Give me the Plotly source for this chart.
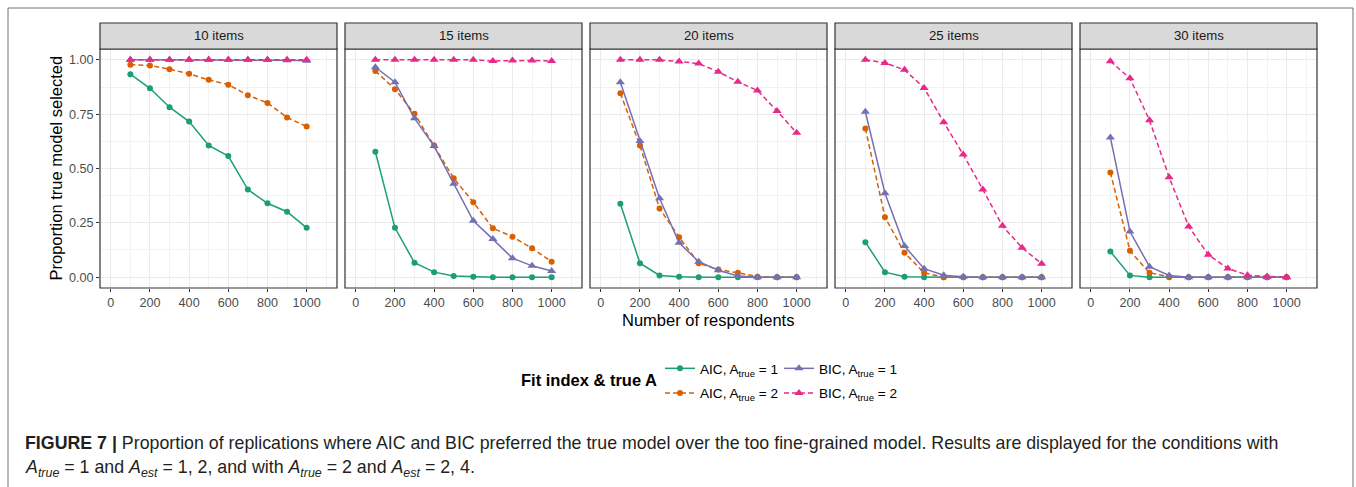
import plotly.graph_objects as go

# ---------------- data ----------------
n_resp = [100, 200, 300, 400, 500, 600, 700, 800, 900, 1000]
panels = ["10 items", "15 items", "20 items", "25 items", "30 items"]
series_names = ["AIC, A<sub>true</sub> = 1", "AIC, A<sub>true</sub> = 2",
                "BIC, A<sub>true</sub> = 1", "BIC, A<sub>true</sub> = 2"]

aic_a1 = [
    [0.934, 0.869, 0.782, 0.716, 0.606, 0.557, 0.403, 0.340, 0.301, 0.227],
    [0.577, 0.227, 0.066, 0.023, 0.005, 0.002, 0.0, 0.0, 0.0, 0.0],
    [0.338, 0.064, 0.008, 0.002, 0.0, 0.0, 0.0, 0.0, 0.0, 0.0],
    [0.161, 0.023, 0.002, 0.0, 0.0, 0.0, 0.0, 0.0, 0.0, 0.0],
    [0.118, 0.008, 0.0, 0.0, 0.0, 0.0, 0.0, 0.0, 0.0, 0.0],
]
aic_a2 = [
    [0.978, 0.974, 0.957, 0.936, 0.908, 0.886, 0.837, 0.802, 0.735, 0.693],
    [0.949, 0.865, 0.752, 0.606, 0.455, 0.345, 0.225, 0.186, 0.133, 0.071],
    [0.846, 0.606, 0.316, 0.184, 0.064, 0.035, 0.020, 0.002, 0.0, 0.0],
    [0.684, 0.276, 0.112, 0.020, 0.0, 0.0, 0.0, 0.0, 0.0, 0.0],
    [0.482, 0.121, 0.020, 0.002, 0.0, 0.0, 0.0, 0.0, 0.0, 0.0],
]
bic_a1 = [
    [1.0, 1.0, 1.0, 1.0, 1.0, 1.0, 1.0, 1.0, 0.998, 0.996],
    [0.966, 0.897, 0.731, 0.603, 0.430, 0.259, 0.175, 0.087, 0.052, 0.028],
    [0.897, 0.627, 0.363, 0.158, 0.071, 0.032, 0.005, 0.0, 0.0, 0.0],
    [0.761, 0.386, 0.143, 0.039, 0.009, 0.002, 0.0, 0.0, 0.0, 0.0],
    [0.643, 0.210, 0.048, 0.008, 0.0, 0.0, 0.0, 0.0, 0.0, 0.0],
]
bic_a2 = [
    [1.0, 1.0, 1.0, 1.0, 1.0, 1.0, 1.0, 1.0, 1.0, 1.0],
    [1.0, 1.0, 1.0, 1.0, 1.0, 1.0, 0.995, 0.997, 0.997, 0.995],
    [1.0, 1.0, 1.0, 0.992, 0.983, 0.945, 0.899, 0.859, 0.765, 0.664],
    [1.0, 0.986, 0.954, 0.871, 0.713, 0.564, 0.403, 0.236, 0.135, 0.062],
    [0.994, 0.915, 0.722, 0.460, 0.233, 0.103, 0.040, 0.009, 0.003, 0.0],
]
x_ticks = [0, 200, 400, 600, 800, 1000]
y_ticks = [0, 0.25, 0.5, 0.75, 1.0]
y_ticktext = ["0.00", "0.25", "0.50", "0.75", "1.00"]

# ---------------- styles ----------------
colors = ["#1B9E77", "#D95F02", "#7570B3", "#E7298A"]
symbols = ["circle", "circle", "triangle-up", "triangle-up"]
dashes = ["solid", "5px,3px", "solid", "5px,3px"]
msize = [6, 6, 8, 8]
legends = ["legend", "legend", "legend2", "legend2"]
all_series = [aic_a1, aic_a2, bic_a1, bic_a2]

W, H = 1356, 487
L, R, T, B = 100, 39, 49, 199
PW, PH = W - L - R, H - T - B
def px_x(p):
    return (p - L) / PW
def px_y(p):
    return (H - B - p) / PH

FONT = "Liberation Sans, Arial, Helvetica, sans-serif"

fig = go.Figure()
shapes = []
annotations = []
for i, name in enumerate(panels):
    ax = "" if i == 0 else str(i + 1)
    for s in range(4):
        fig.add_trace(go.Scatter(
            x=n_resp, y=all_series[s][i], mode="lines+markers",
            name=series_names[s], legendgroup=str(s), showlegend=(i == 0),
            legend=legends[s],
            line=dict(color=colors[s], width=1.5, dash=dashes[s]),
            marker=dict(color=colors[s], size=msize[s], symbol=symbols[s]),
            xaxis="x" + ax, yaxis="y" + ax,
        ))
    x0 = L + i * 245
    x1 = x0 + 237
    dom = [px_x(x0), px_x(x1)]
    fig.update_layout(**{
        "xaxis" + ax: dict(
            domain=dom, range=[-55, 1155], anchor="y" + ax,
            tickvals=x_ticks, ticks="outside", ticklen=3, tickwidth=1,
            tickcolor="#333333", showgrid=True, gridcolor="#EBEBEB", gridwidth=1.4,
            zeroline=False, showline=False,
            tickfont=dict(size=12.6, color="#4D4D4D", family=FONT),
            minor=dict(tickvals=[100, 300, 500, 700, 900, 1100], showgrid=True,
                       gridcolor="#F2F2F2", gridwidth=0.8, ticks=""),
        ),
        "yaxis" + ax: dict(
            domain=[0, 1], range=[-0.05, 1.05], anchor="x" + ax,
            tickvals=y_ticks, ticktext=y_ticktext,
            showticklabels=(i == 0), ticks="outside" if i == 0 else "",
            ticklen=3, tickwidth=1, tickcolor="#333333",
            showgrid=True, gridcolor="#EBEBEB", gridwidth=1.4,
            zeroline=False, showline=False,
            tickfont=dict(size=12.6, color="#4D4D4D", family=FONT),
            minor=dict(tickvals=[0.125, 0.375, 0.625, 0.875], showgrid=True,
                       gridcolor="#F2F2F2", gridwidth=0.8, ticks=""),
        ),
    })
    # panel border
    shapes.append(dict(type="rect", xref="x" + ax + " domain", yref="y" + ax + " domain",
                       x0=0, x1=1, y0=0, y1=1, line=dict(color="#333333", width=1.2),
                       fillcolor="rgba(0,0,0,0)", layer="above"))
    # strip
    shapes.append(dict(type="rect", xref="x" + ax + " domain", yref="paper",
                       x0=0, x1=1, y0=1, y1=px_y(23),
                       line=dict(color="#333333", width=1.2), fillcolor="#D9D9D9"))
    annotations.append(dict(text=name, xref="x" + ax + " domain", yref="paper",
                            x=0.5, y=px_y(36), xanchor="center", yanchor="middle",
                            showarrow=False,
                            font=dict(size=13.2, color="#1A1A1A", family=FONT)))

# outer frame
shapes.append(dict(type="rect", xref="paper", yref="paper",
                   x0=px_x(8), x1=px_x(1353), y0=px_y(520), y1=px_y(8),
                   line=dict(color="#707070", width=1), fillcolor="rgba(0,0,0,0)"))

# axis titles
annotations.append(dict(text="Proportion true model selected", xref="paper", yref="paper",
                        x=px_x(55), y=px_y(168.5), xanchor="center", yanchor="middle",
                        textangle=-90, showarrow=False,
                        font=dict(size=16.5, color="black", family=FONT)))
annotations.append(dict(text="Number of respondents", xref="paper", yref="paper",
                        x=px_x(708), y=px_y(320), xanchor="center", yanchor="middle",
                        showarrow=False,
                        font=dict(size=16.5, color="black", family=FONT)))
# legend title
annotations.append(dict(text="<b>Fit index & true A</b>", xref="paper", yref="paper",
                        x=px_x(519), y=px_y(380), xanchor="left", yanchor="middle",
                        showarrow=False,
                        font=dict(size=16.5, color="black", family=FONT)))
# caption
annotations.append(dict(
    text="<b>FIGURE 7 |</b> Proportion of replications where AIC and BIC preferred the true model over the too fine-grained model. Results are displayed for the conditions with",
    xref="paper", yref="paper", x=px_x(23), y=px_y(443), xanchor="left", yanchor="middle",
    showarrow=False, font=dict(size=17.8, color="#231F20", family=FONT)))
annotations.append(dict(
    text="<i>A<sub>true</sub></i> = 1 and <i>A<sub>est</sub></i> = 1, 2, and with <i>A<sub>true</sub></i> = 2 and <i>A<sub>est</sub></i> = 2, 4.",
    xref="paper", yref="paper", x=px_x(23), y=px_y(468), xanchor="left", yanchor="middle",
    showarrow=False, font=dict(size=17.8, color="#231F20", family=FONT)))

leg_common = dict(orientation="v", xanchor="left", yanchor="top",
                  bgcolor="rgba(0,0,0,0)", font=dict(size=13.6, color="black", family=FONT),
                  tracegroupgap=4, itemwidth=30)
fig.update_layout(
    width=W, height=H,
    margin=dict(l=L, r=R, t=T, b=B, autoexpand=False),
    paper_bgcolor="white", plot_bgcolor="white",
    showlegend=True,
    legend=dict(x=px_x(660), y=px_y(353), **leg_common),
    legend2=dict(x=px_x(779), y=px_y(353), **leg_common),
    shapes=shapes, annotations=annotations,
    font=dict(family=FONT),
)
fig.write_html("out.html")
